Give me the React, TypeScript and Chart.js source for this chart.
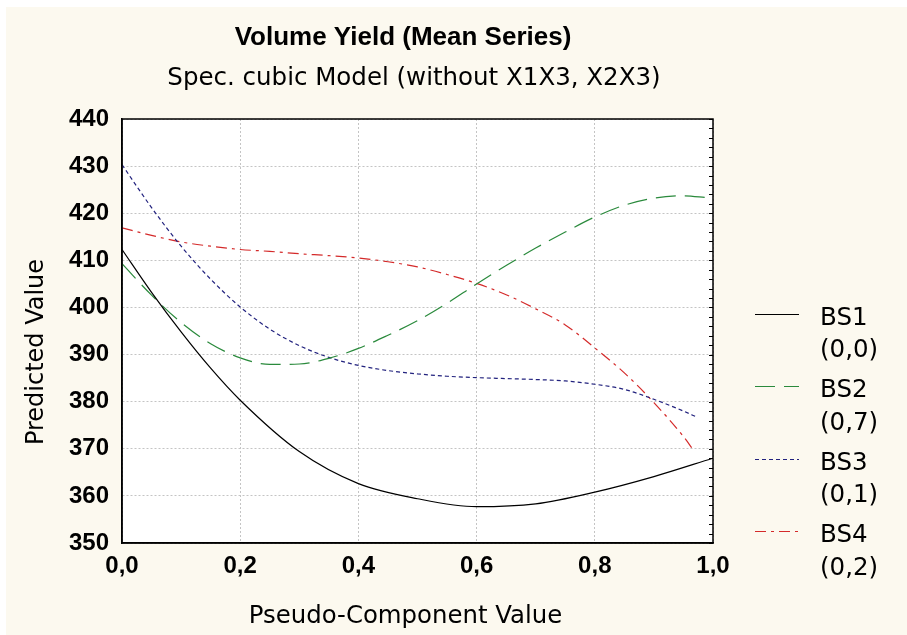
import React, { useEffect, useRef } from "react";
import { Chart, registerables } from "chart.js";

Chart.register(...registerables);

const TITLE = "Volume Yield (Mean Series)";
const SUBTITLE = "Spec. cubic Model (without X1X3, X2X3)";
const X_TITLE = "Pseudo-Component Value";
const Y_TITLE = "Predicted Value";

const seriesNames = ["BS1", "BS2", "BS3", "BS4"];
const seriesSubLabels = ["(0,0)", "(0,7)", "(0,1)", "(0,2)"];

// Pseudo-component values (x) and predicted values (y) for each series
const xBS1 = [0, 0.05, 0.1, 0.15, 0.2, 0.3, 0.4, 0.5, 0.6, 0.7, 0.8, 0.9, 1.0];
const yBS1 = [412.3, 403.2, 394.8, 387.1, 380.3, 369.4, 362.6, 359.4, 357.7, 358.3, 360.8, 364.1, 368.0];

const xBS2 = [0, 0.05, 0.1, 0.15, 0.2, 0.25, 0.3, 0.35, 0.4, 0.45, 0.5, 0.55, 0.6, 0.65, 0.7, 0.75, 0.8, 0.85, 0.9, 0.95, 0.99];
const yBS2 = [409.3, 402.6, 396.8, 392.3, 389.3, 387.9, 388.0, 389.2, 391.3, 394.1, 397.2, 400.9, 405.0, 408.9, 412.6, 416.0, 419.2, 421.7, 423.2, 423.7, 423.3];

const xBS3 = [0, 0.05, 0.1, 0.15, 0.2, 0.25, 0.3, 0.35, 0.4, 0.45, 0.5, 0.55, 0.6, 0.65, 0.7, 0.75, 0.8, 0.85, 0.9, 0.95, 0.973];
const yBS3 = [430.3, 421.2, 413.0, 406.0, 400.1, 395.4, 391.9, 389.4, 387.7, 386.6, 385.9, 385.4, 385.1, 384.9, 384.7, 384.4, 383.7, 382.6, 380.5, 378.0, 376.7];

const xBS4 = [0, 0.05, 0.1, 0.15, 0.2, 0.25, 0.3, 0.35, 0.4, 0.45, 0.5, 0.55, 0.6, 0.65, 0.7, 0.75, 0.8, 0.85, 0.9, 0.95, 0.967];
const yBS4 = [416.9, 415.3, 413.9, 413.0, 412.3, 411.9, 411.4, 411.0, 410.5, 409.7, 408.6, 407.0, 405.1, 402.7, 399.7, 396.3, 391.4, 386.1, 379.8, 372.6, 369.7];

const xMin = 0;
const xMax = 1;
const xStep = 0.2;
const yMin = 350;
const yMax = 440;
const yStep = 10;
const yMinorStep = 2;

const colors = ["#000000", "#2a8a3c", "#22227e", "#d42a2a"];
const dashes: number[][] = [[], [20, 9], [4, 3], [11, 5, 3, 5]];

const toPts = (xs: number[], ys: number[]) => xs.map((x, i) => ({ x, y: ys[i] }));

const REG = "'DejaVu Sans', 'Liberation Sans', Arial, sans-serif";
const BOLD = "'Liberation Sans', Arial, sans-serif";

const decor = {
  id: "decor",
  beforeDraw(chart: any) {
    const { ctx, width, height, chartArea: a } = chart;
    ctx.save();
    ctx.fillStyle = "#ffffff";
    ctx.fillRect(0, 0, width, height);
    ctx.fillStyle = "#fcf9ef";
    ctx.fillRect(6, 7, width - 6, height - 7);
    ctx.fillStyle = "#ffffff";
    ctx.fillRect(a.left, a.top, a.right - a.left, a.bottom - a.top);
    ctx.restore();
  },
  afterDraw(chart: any) {
    const { ctx, chartArea: a } = chart;
    const ys = chart.scales.y;
    ctx.save();
    // frame
    ctx.strokeStyle = "#000";
    ctx.lineWidth = 1.5;
    ctx.setLineDash([]);
    ctx.strokeRect(a.left, a.top, a.right - a.left, a.bottom - a.top);
    // minor ticks on right edge
    ctx.lineWidth = 1;
    ctx.beginPath();
    for (let v = yMin; v <= yMax; v += yMinorStep) {
      const py = Math.round(ys.getPixelForValue(v)) + 0.5;
      ctx.moveTo(a.right - 4, py);
      ctx.lineTo(a.right, py);
    }
    ctx.stroke();

    ctx.fillStyle = "#000";
    ctx.textAlign = "center";
    ctx.textBaseline = "alphabetic";
    ctx.font = `bold 26px ${BOLD}`;
    ctx.fillText(TITLE, 403, 44.5);
    ctx.font = `24.5px ${REG}`;
    ctx.fillText(SUBTITLE, 414, 84.5);
    ctx.font = `24.4px ${REG}`;
    ctx.fillText(X_TITLE, 405.5, 622.5);
    ctx.save();
    ctx.translate(43, 352);
    ctx.rotate(-Math.PI / 2);
    ctx.font = `24px ${REG}`;
    ctx.fillText(Y_TITLE, 0, 0);
    ctx.restore();

    // legend
    const baselines = [324.5, 397, 469.5, 542];
    chart.data.datasets.forEach((ds: any, i: number) => {
      const b = baselines[i];
      ctx.save();
      ctx.strokeStyle = ds.borderColor;
      ctx.lineWidth = ds.borderWidth;
      ctx.setLineDash(ds.borderDash || []);
      ctx.beginPath();
      ctx.moveTo(755, Math.round(b - 11) + 0.5);
      ctx.lineTo(799, Math.round(b - 11) + 0.5);
      ctx.stroke();
      ctx.restore();
      ctx.fillStyle = "#000";
      ctx.textAlign = "left";
      ctx.font = `24.5px ${REG}`;
      ctx.fillText(seriesNames[i], 820, b);
      ctx.fillText(seriesSubLabels[i], 820, b + 32.5);
    });
    ctx.restore();
  },
};

export default function App() {
  const ref = useRef<HTMLCanvasElement | null>(null);

  useEffect(() => {
    if (!ref.current) return;
    const xs = [xBS1, xBS2, xBS3, xBS4];
    const yv = [yBS1, yBS2, yBS3, yBS4];
    const chart = new Chart(ref.current, {
      type: "line",
      data: {
        datasets: seriesNames.map((name, i) => ({
          label: `${name} ${seriesSubLabels[i]}`,
          data: toPts(xs[i], yv[i]),
          borderColor: colors[i],
          backgroundColor: colors[i],
          borderWidth: 1.2,
          borderDash: dashes[i],
          pointRadius: 0,
          fill: false,
          cubicInterpolationMode: "monotone" as const,
        })),
      },
      options: {
        responsive: false,
        animation: false,
        parsing: false,
        normalized: true,
        layout: { padding: { left: 0, right: 194, top: 119, bottom: 0 } },
        plugins: {
          legend: { display: false },
          title: { display: false },
          tooltip: { enabled: false },
        },
        scales: {
          x: {
            type: "linear",
            min: xMin,
            max: xMax,
            afterFit: (s: any) => {
              s.height = 92;
            },
            ticks: {
              stepSize: xStep,
              padding: 9,
              color: "#000",
              font: { family: BOLD, size: 24, weight: "bold" },
              callback: (v: any) => Number(v).toFixed(1).replace(".", ","),
            },
            grid: { color: "#c4c4c4", lineWidth: 1, drawTicks: false },
            border: { display: true, color: "#000", width: 1.5, dash: [2, 2] },
          },
          y: {
            type: "linear",
            min: yMin,
            max: yMax,
            afterFit: (s: any) => {
              s.width = 122;
            },
            ticks: {
              stepSize: yStep,
              padding: 13,
              color: "#000",
              font: { family: BOLD, size: 24, weight: "bold" },
            },
            grid: { color: "#c4c4c4", lineWidth: 1, drawTicks: false },
            border: { display: true, color: "#000", width: 1.5, dash: [2, 2] },
          },
        },
      },
      plugins: [decor],
    });
    return () => chart.destroy();
  }, []);

  return (
    <div style={{ position: "fixed", left: 0, top: 0, width: 907, height: 635 }}>
      <canvas ref={ref} width={907} height={635} style={{ display: "block" }} />
    </div>
  );
}
